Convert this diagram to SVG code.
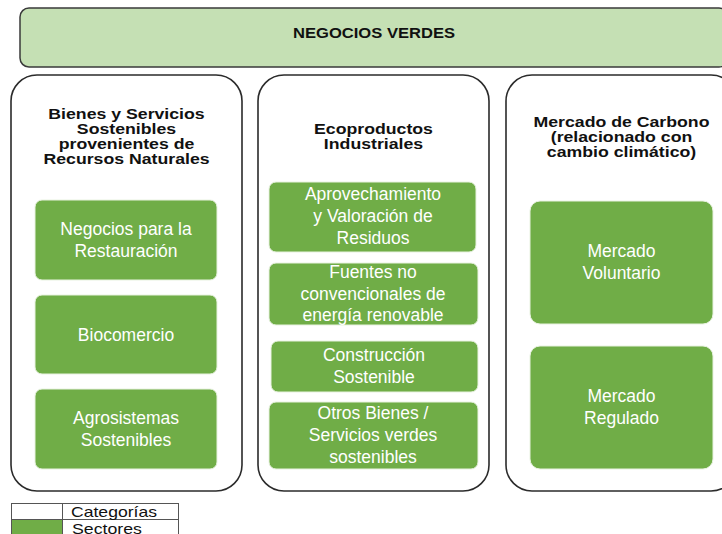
<svg xmlns="http://www.w3.org/2000/svg" width="722" height="534" viewBox="0 0 722 534">
<style>
.top{fill:#C5E0B4;stroke:#3a3a3a;stroke-width:1.5}
.panel{fill:#fff;stroke:#2b2b2b;stroke-width:1.6}
.sec{fill:#70AD47;stroke:#e8f2e0;stroke-width:1}
.h{font-family:"Liberation Sans",Arial,sans-serif;font-weight:bold;font-size:15px;fill:#111;text-anchor:middle}
.t{font-family:"Liberation Sans",Arial,sans-serif;font-size:17.5px;fill:#fff;text-anchor:middle}
.lg{font-family:"Liberation Sans",Arial,sans-serif;font-size:15px;fill:#111}
.grid{fill:none;stroke:#555;stroke-width:1}
</style>
<rect width="722" height="534" fill="#fff"/>
<g id="negocios-verdes">
<rect class="top" x="20" y="8" width="708" height="59" rx="9"/>
<text x="374" y="38" font-family="'Liberation Sans',Arial,sans-serif" font-weight="bold" font-size="15" fill="#111" text-anchor="middle" textLength="162" lengthAdjust="spacingAndGlyphs">NEGOCIOS VERDES</text>
</g>
<g id="connectors"></g>
<g id="cat-bienes">
<rect class="panel" x="11" y="75" width="231" height="416" rx="26"/>
<g transform="translate(126.5,0) scale(1.18,1)">
<text class="h" x="0" y="119">Bienes y Servicios</text>
<text class="h" x="0" y="134">Sostenibles</text>
<text class="h" x="0" y="149">provenientes de</text>
<text class="h" x="0" y="164">Recursos Naturales</text>
</g>
</g>
<g id="cat-ecoproductos">
<rect class="panel" x="258" y="75" width="231" height="416" rx="26"/>
<g transform="translate(373.5,0) scale(1.18,1)">
<text class="h" x="0" y="134">Ecoproductos</text>
<text class="h" x="0" y="149">Industriales</text>
</g>
</g>
<g id="cat-carbono">
<rect class="panel" x="506" y="75" width="231" height="416" rx="26"/>
<g transform="translate(621.5,0) scale(1.18,1)">
<text class="h" x="0" y="127">Mercado de Carbono</text>
<text class="h" x="0" y="142">(relacionado con</text>
<text class="h" x="0" y="157">cambio climático)</text>
</g>
</g>
<g id="sec-restauracion">
<rect class="sec" x="35" y="200" width="182" height="80" rx="7"/>
<text class="t" x="126" y="235">Negocios para la</text>
<text class="t" x="126" y="257">Restauración</text>
</g>
<g id="sec-biocomercio">
<rect class="sec" x="35" y="295" width="182" height="79" rx="7"/>
<text class="t" x="126" y="341">Biocomercio</text>
</g>
<g id="sec-agrosistemas">
<rect class="sec" x="35" y="389" width="182" height="80" rx="7"/>
<text class="t" x="126" y="424">Agrosistemas</text>
<text class="t" x="126" y="446">Sostenibles</text>
</g>
<g id="sec-residuos">
<rect class="sec" x="269" y="182" width="207" height="70" rx="7"/>
<text class="t" x="373" y="200">Aprovechamiento</text>
<text class="t" x="373" y="222">y Valoración de</text>
<text class="t" x="373" y="244">Residuos</text>
</g>
<g id="sec-energia">
<rect class="sec" x="269" y="263" width="209" height="62" rx="7"/>
<text class="t" x="373" y="278">Fuentes no</text>
<text class="t" x="373" y="300">convencionales de</text>
<text class="t" x="373" y="321">energía renovable</text>
</g>
<g id="sec-construccion">
<rect class="sec" x="271" y="341" width="207" height="51" rx="7"/>
<text class="t" x="374" y="361">Construcción</text>
<text class="t" x="374" y="383">Sostenible</text>
</g>
<g id="sec-otros">
<rect class="sec" x="269" y="402" width="209" height="67" rx="7"/>
<text class="t" x="373" y="419">Otros Bienes /</text>
<text class="t" x="373" y="441">Servicios verdes</text>
<text class="t" x="373" y="463">sostenibles</text>
</g>
<g id="sec-voluntario">
<rect class="sec" x="530" y="201" width="183" height="123" rx="10"/>
<text class="t" x="621.5" y="257">Mercado</text>
<text class="t" x="621.5" y="279">Voluntario</text>
</g>
<g id="sec-regulado">
<rect class="sec" x="530" y="346" width="183" height="123" rx="10"/>
<text class="t" x="621.5" y="402">Mercado</text>
<text class="t" x="621.5" y="424">Regulado</text>
</g>
<g id="legend">
<rect x="12" y="520" width="50" height="16" fill="#70AD47"/>
<rect class="grid" x="11.5" y="503.5" width="167" height="32"/>
<line class="grid" x1="62.5" y1="503.5" x2="62.5" y2="536"/>
<line class="grid" x1="11.5" y1="519.5" x2="178.5" y2="519.5"/>
<text class="lg" x="71" y="517" textLength="86" lengthAdjust="spacingAndGlyphs">Categorías</text>
<text class="lg" x="72" y="534" textLength="70" lengthAdjust="spacingAndGlyphs">Sectores</text>
</g>
</svg>
